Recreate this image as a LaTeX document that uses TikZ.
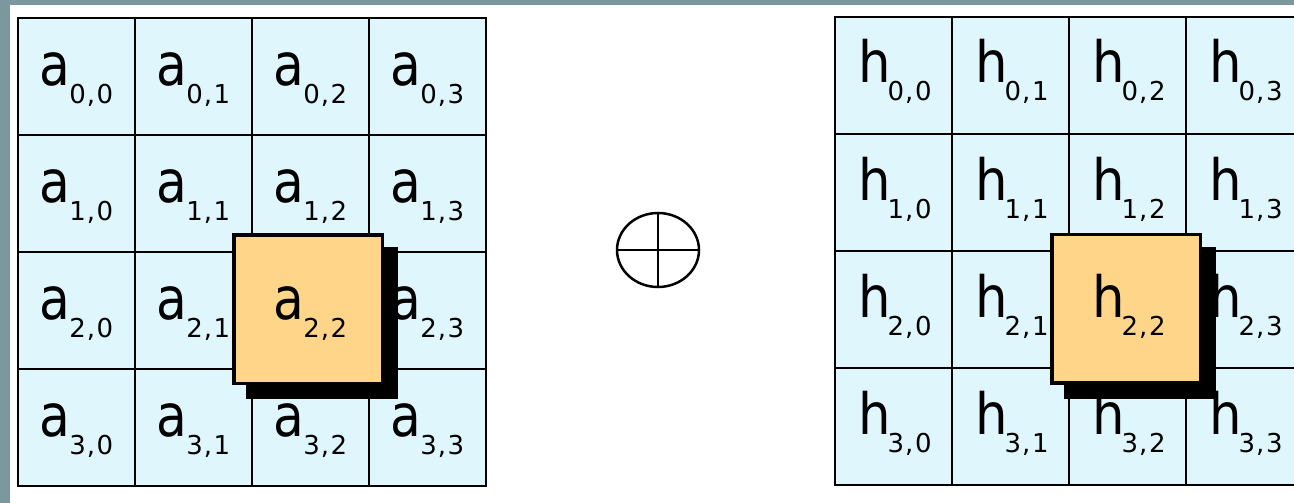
\documentclass[tikz,border=0pt]{standalone}
\usepackage{fontspec}
\setmainfont{DejaVu Sans}
\usetikzlibrary{calc,shapes.geometric}
\definecolor{bandgray}{RGB}{125,151,158}
\definecolor{cellblue}{RGB}{224,246,253}
\definecolor{boxorange}{RGB}{255,213,138}
\newcommand{\subidx}[2]{\raisebox{-18pt}{\fontsize{26}{26}\selectfont #1\kern1pt,\kern1.5pt#2}}
\newcommand{\acell}[2]{{\fontsize{57}{57}\selectfont\scalebox{0.88}[1.03]{a}}\kern-1pt\subidx{#1}{#2}}
\newcommand{\hcell}[2]{{\fontsize{57}{57}\selectfont\scalebox{0.9}[1]{h}}\kern-3pt\subidx{#1}{#2}}
\begin{document}
\begin{tikzpicture}[x=1pt,y=-1pt,
  cellbox/.style={draw=black, line width=2pt, fill=cellblue, minimum width=117pt, minimum height=117pt, inner sep=0pt, outer sep=0pt},
  celltext/.style={anchor=base west, inner sep=0pt},
  shadowbox/.style={fill=black, minimum width=152pt, minimum height=152pt, inner sep=0pt},
  orangebox/.style={draw=black, line width=3.5pt, fill=boxorange, minimum width=148.5pt, minimum height=148.5pt, inner sep=0pt},
  opcircle/.style={draw=black, line width=2.5pt, ellipse, minimum width=82pt, minimum height=74pt, inner sep=0pt}]
\useasboundingbox (0,0) rectangle (1294,503);
\clip (0,0) rectangle (1294,503);
\fill[bandgray] (0,0) rectangle (1294,503);
\fill[white] (10,5) rectangle (1294,503);
% left grid
\foreach \r in {0,...,3}{
  \foreach \c in {0,...,3}{
    \node[cellbox] (A\r\c) at ({18+117*\c+58.5},{18+117*\r+58.5}) {};
    \node[celltext] (At\r\c) at ($(A\r\c.north west)+(21.5,67)$) {\acell{\r}{\c}};
  }
}
% right grid
\foreach \r in {0,...,3}{
  \foreach \c in {0,...,3}{
    \node[cellbox] (H\r\c) at ({835+117*\c+58.5},{17+117*\r+58.5}) {};
    \node[celltext] (Ht\r\c) at ($(H\r\c.north west)+(23,66)$) {\hcell{\r}{\c}};
  }
}
% highlighted boxes
\node[shadowbox] (As) at (322,323) {};
\node[orangebox] (Ao) at (308,309) {};
\node[celltext] (Aot) at ($(A22.north west)+(21.5,67)$) {\acell{2}{2}};
\node[shadowbox] (Hs) at (1140,322.5) {};
\node[orangebox] (Ho) at (1126,308.5) {};
\node[celltext] (Hot) at ($(H22.north west)+(23,66)$) {\hcell{2}{2}};
% operator
\node[opcircle] (op) at (658,250) {};
\draw[line width=2.5pt] (op.north) -- (op.south);
\draw[line width=2.5pt] (op.west) -- (op.east);
\end{tikzpicture}
\end{document}
